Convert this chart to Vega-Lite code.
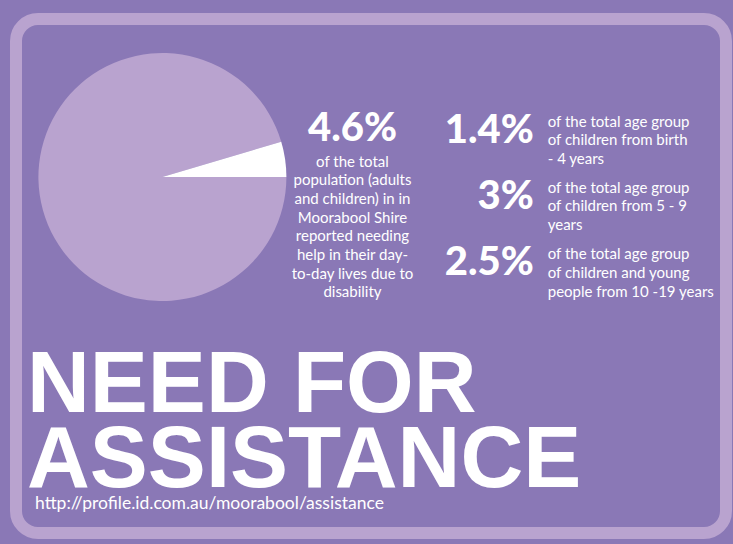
{
  "$schema": "https://vega.github.io/schema/vega-lite/v6.json",
  "width": 733,
  "height": 544,
  "autosize": {"type": "fit", "contains": "padding"},
  "padding": {"left": 16, "top": 19, "right": 7, "bottom": 11},
  "background": "#8A78B6",
  "config": {
    "view": {"fill": "#8A78B6", "stroke": "#B9A3CF", "strokeWidth": 12, "cornerRadius": 22},
    "text": {"color": "#FFFFFF"}
  },
  "datasets": {
    "pie": [
      {"part": "Did not need assistance", "value": 95.4},
      {"part": "Needed assistance", "value": 4.6}
    ],
    "total": [
      {"pct": "4.6%", "desc": "of the total\npopulation (adults\nand children) in in\nMoorabool Shire\nreported needing\nhelp in their day-\nto-day lives due to\ndisability"}
    ],
    "groups": [
      {"group": "0-4", "pct": "1.4%", "desc": "of the total age group\nof children from birth\n- 4 years"},
      {"group": "5-9", "pct": "3%", "desc": "of the total age group\nof children from 5 - 9\nyears"},
      {"group": "10-19", "pct": "2.5%", "desc": "of the total age group\nof children and young\npeople from 10 -19 years"}
    ],
    "heading": [
      {"title": "NEED FOR\nASSISTANCE", "source": "http://profile.id.com.au/moorabool/assistance"}
    ]
  },
  "layer": [
    {
      "data": {"name": "pie"},
      "mark": {"type": "arc", "outerRadius": 124},
      "encoding": {
        "x": {"datum": 20.62, "type": "quantitative", "scale": {"domain": [0, 100], "nice": false, "zero": false}, "axis": null},
        "y": {"datum": 30.74, "type": "quantitative", "scale": {"domain": [0, 100], "nice": false, "zero": false, "reverse": true}, "axis": null},
        "theta": {"field": "value", "type": "quantitative", "stack": true, "scale": {"range": [-4.712389, 1.570796]}},
        "order": {"field": "value", "sort": "descending"},
        "color": {"field": "part", "type": "nominal", "scale": {"domain": ["Did not need assistance", "Needed assistance"], "range": ["#B9A3CF", "#FFFFFF"]}, "legend": null}
      }
    },
    {
      "data": {"name": "total"},
      "mark": {"type": "text", "align": "center", "baseline": "alphabetic", "font": "Lato", "fontSize": 40, "fontWeight": 900},
      "encoding": {
        "x": {"datum": 47.39, "type": "quantitative", "axis": null},
        "y": {"datum": 23.74, "type": "quantitative", "axis": null},
        "text": {"field": "pct"}
      }
    },
    {
      "data": {"name": "total"},
      "mark": {"type": "text", "align": "center", "baseline": "alphabetic", "font": "Lato", "fontSize": 15, "lineBreak": "\n", "lineHeight": 18.7},
      "encoding": {
        "x": {"datum": 47.39, "type": "quantitative", "axis": null},
        "y": {"datum": 28.7, "type": "quantitative", "axis": null},
        "text": {"field": "desc"}
      }
    },
    {
      "data": {"name": "groups"},
      "transform": [{"filter": "datum.group === '0-4'"}],
      "mark": {"type": "text", "align": "right", "baseline": "alphabetic", "font": "Lato", "fontSize": 40, "fontWeight": 900},
      "encoding": {
        "x": {"datum": 72.92, "type": "quantitative", "axis": null},
        "y": {"datum": 24.18, "type": "quantitative", "axis": null},
        "text": {"field": "pct"}
      }
    },
    {
      "data": {"name": "groups"},
      "transform": [{"filter": "datum.group === '5-9'"}],
      "mark": {"type": "text", "align": "right", "baseline": "alphabetic", "font": "Lato", "fontSize": 40, "fontWeight": 900},
      "encoding": {
        "x": {"datum": 72.92, "type": "quantitative", "axis": null},
        "y": {"datum": 37.02, "type": "quantitative", "axis": null},
        "text": {"field": "pct"}
      }
    },
    {
      "data": {"name": "groups"},
      "transform": [{"filter": "datum.group === '10-19'"}],
      "mark": {"type": "text", "align": "right", "baseline": "alphabetic", "font": "Lato", "fontSize": 40, "fontWeight": 900},
      "encoding": {
        "x": {"datum": 72.92, "type": "quantitative", "axis": null},
        "y": {"datum": 49.81, "type": "quantitative", "axis": null},
        "text": {"field": "pct"}
      }
    },
    {
      "data": {"name": "groups"},
      "transform": [{"filter": "datum.group === '0-4'"}],
      "mark": {"type": "text", "align": "left", "baseline": "alphabetic", "font": "Lato", "fontSize": 15, "lineBreak": "\n", "lineHeight": 18.7},
      "encoding": {
        "x": {"datum": 74.89, "type": "quantitative", "axis": null},
        "y": {"datum": 20.95, "type": "quantitative", "axis": null},
        "text": {"field": "desc"}
      }
    },
    {
      "data": {"name": "groups"},
      "transform": [{"filter": "datum.group === '5-9'"}],
      "mark": {"type": "text", "align": "left", "baseline": "alphabetic", "font": "Lato", "fontSize": 15, "lineBreak": "\n", "lineHeight": 18.7},
      "encoding": {
        "x": {"datum": 74.89, "type": "quantitative", "axis": null},
        "y": {"datum": 33.79, "type": "quantitative", "axis": null},
        "text": {"field": "desc"}
      }
    },
    {
      "data": {"name": "groups"},
      "transform": [{"filter": "datum.group === '10-19'"}],
      "mark": {"type": "text", "align": "left", "baseline": "alphabetic", "font": "Lato", "fontSize": 15, "lineBreak": "\n", "lineHeight": 18.7},
      "encoding": {
        "x": {"datum": 74.89, "type": "quantitative", "axis": null},
        "y": {"datum": 46.75, "type": "quantitative", "axis": null},
        "text": {"field": "desc"}
      }
    },
    {
      "data": {"name": "heading"},
      "mark": {"type": "text", "align": "left", "baseline": "alphabetic", "font": "Liberation Sans", "fontSize": 87, "fontWeight": "bold", "lineBreak": "\n", "lineHeight": 75},
      "encoding": {
        "x": {"datum": 1.55, "type": "quantitative", "axis": null},
        "y": {"datum": 76.46, "type": "quantitative", "axis": null},
        "text": {"field": "title"}
      }
    },
    {
      "data": {"name": "heading"},
      "mark": {"type": "text", "align": "left", "baseline": "alphabetic", "font": "Lato", "fontSize": 17.5},
      "encoding": {
        "x": {"datum": 2.68, "type": "quantitative", "axis": null},
        "y": {"datum": 95.33, "type": "quantitative", "axis": null},
        "text": {"field": "source"}
      }
    }
  ]
}
